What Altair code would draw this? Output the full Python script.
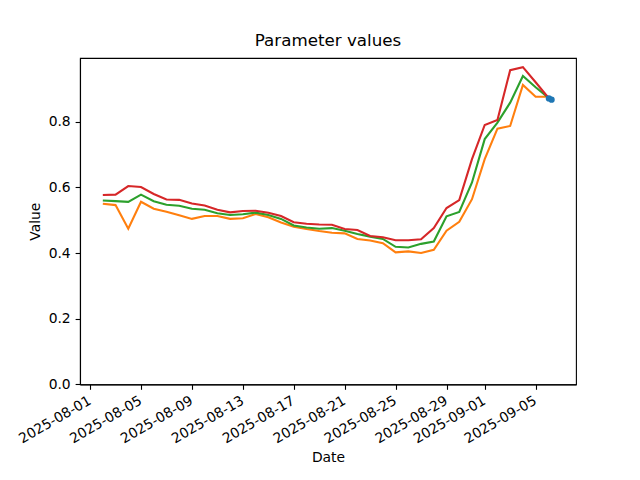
import altair as alt
import pandas as pd

dates = pd.date_range("2025-08-02", "2025-09-06", freq="D").strftime("%Y-%m-%d").tolist()

upper = [0.577, 0.578, 0.604, 0.601, 0.580, 0.563, 0.562, 0.551, 0.545, 0.532,
         0.524, 0.528, 0.529, 0.523, 0.513, 0.494, 0.489, 0.487, 0.486, 0.473,
         0.470, 0.452, 0.448, 0.439, 0.439, 0.442, 0.476, 0.537, 0.561, 0.686,
         0.790, 0.805, 0.957, 0.966, 0.920, 0.873]
median = [0.560, 0.558, 0.556, 0.578, 0.558, 0.547, 0.544, 0.535, 0.532, 0.521,
          0.516, 0.518, 0.523, 0.516, 0.504, 0.484, 0.478, 0.474, 0.476, 0.468,
          0.458, 0.450, 0.443, 0.419, 0.417, 0.428, 0.435, 0.512, 0.525, 0.615,
          0.747, 0.797, 0.858, 0.939, 0.905, 0.873]
lower = [0.550, 0.546, 0.474, 0.556, 0.535, 0.526, 0.515, 0.504, 0.513, 0.513,
         0.504, 0.506, 0.519, 0.509, 0.493, 0.480, 0.473, 0.467, 0.462, 0.460,
         0.443, 0.438, 0.430, 0.402, 0.405, 0.400, 0.410, 0.468, 0.495, 0.564,
         0.686, 0.779, 0.787, 0.912, 0.876, 0.876]

current_dates = ["2025-09-06T01:00:00Z", "2025-09-06T06:00:00Z"]
current_vals = [0.871, 0.867]

series_names = ["lower", "median", "upper"]
series_colors = ["#ff7f0e", "#2ca02c", "#d62728"]

tick_dates = ["2025-08-01", "2025-08-05", "2025-08-09", "2025-08-13", "2025-08-17",
              "2025-08-21", "2025-08-25", "2025-08-29", "2025-09-01", "2025-09-05"]
y_ticks = [0.0, 0.2, 0.4, 0.6, 0.8]

def ms(s):
    return int(pd.Timestamp(s, tz="UTC").value // 1_000_000)

x_domain = [ms("2025-07-31T05:00:00"), ms("2025-09-08T04:05:00")]
y_domain = [0, 0.994]

rows = []
for name, vals in zip(series_names, [lower, median, upper]):
    for d, v in zip(dates, vals):
        rows.append({"Date": d + "T00:00:00Z", "Value": v, "series": name})
df = pd.DataFrame(rows)
cur = pd.DataFrame({"Date": current_dates, "Value": current_vals})

FONT = "DejaVu Sans"

x_enc = alt.X("Date:T", title="Date",
              scale=alt.Scale(type="utc", domain=x_domain, nice=False),
              axis=alt.Axis(values=[ms(t) for t in tick_dates],
                            labelExpr="utcFormat(datum.value, '%Y-%m-%d')",
                            labelAngle=-30, labelAlign="right",
                            labelBaseline="top", labelOffset=-4, labelPadding=4,
                            labelOverlap=False, labelFlush=False,
                            tickSize=4.9, grid=False, titlePadding=5))
y_enc = alt.Y("Value:Q", title="Value",
              scale=alt.Scale(domain=y_domain, nice=False, zero=False),
              axis=alt.Axis(values=y_ticks, format=".1f", tickSize=4.9,
                            labelPadding=4.9, grid=False, titlePadding=6,
                            labelOverlap=False, labelFlush=False,
                            labelBaseline="middle"))

lines = alt.Chart(df).mark_line(strokeWidth=2.1).encode(
    x=x_enc, y=y_enc,
    color=alt.Color("series:N", scale=alt.Scale(domain=series_names, range=series_colors),
                    legend=None),
)

cur_line = alt.Chart(cur).mark_line(strokeWidth=3.5, color="#1f77b4").encode(
    x=x_enc, y=y_enc)
cur_pts = alt.Chart(cur).mark_point(filled=True, size=40, color="#1f77b4", opacity=1).encode(
    x=x_enc, y=y_enc)

chart = alt.layer(lines, cur_line, cur_pts).properties(
    width=496, height=326.4,
    background="white",
    title=alt.TitleParams("Parameter values", fontSize=16.7, font=FONT,
                          fontWeight="normal", color="black", offset=8),
    autosize="none",
    padding={"left": 72, "top": 50, "right": 56, "bottom": 88},
).configure_view(stroke="black", strokeWidth=1.1).configure_axis(
    labelFont=FONT, titleFont=FONT, labelFontSize=13.9, titleFontSize=13.9,
    titleFontWeight="normal", labelColor="black", titleColor="black",
    tickColor="black", domainColor="black", tickWidth=1.1, domainWidth=1.1,
)

chart.save("out.html", embed_options={"renderer": "svg", "actions": False})
